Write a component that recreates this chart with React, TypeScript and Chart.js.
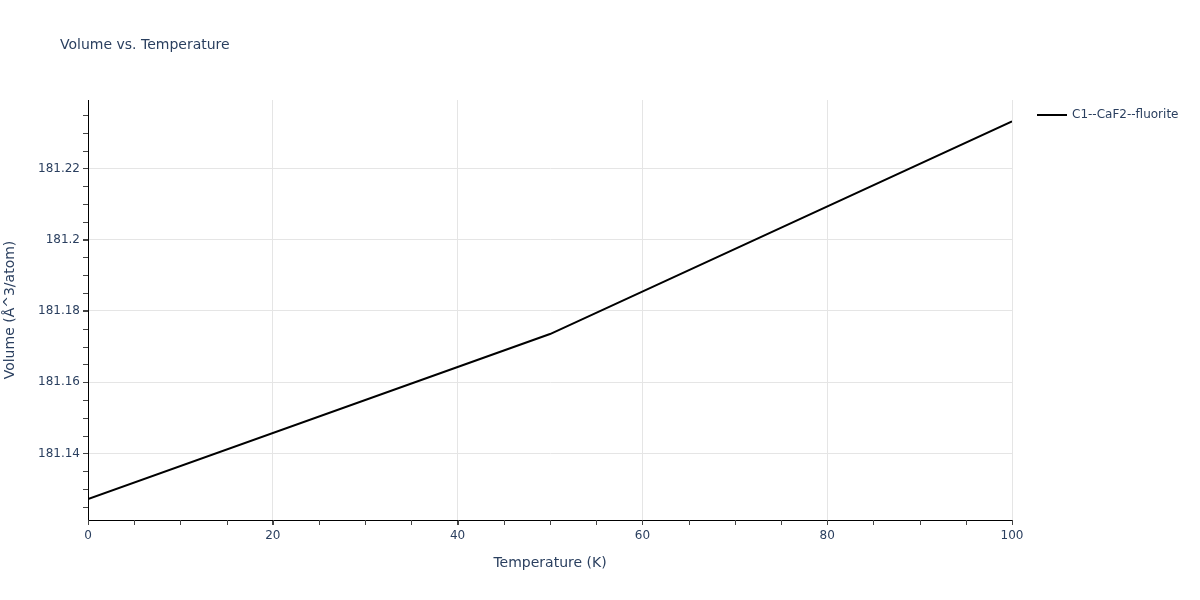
import { useEffect, useRef } from 'react';
import { Chart, registerables } from 'chart.js';
Chart.register(...registerables);

// data
const TEMPS = [0, 50, 100];
const VOLUMES = [181.1272, 181.1735, 181.2332];
const SERIES_NAME = 'C1--CaF2--fluorite';

const X_TICKS = [0, 20, 40, 60, 80, 100];
const Y_TICKS = [181.14, 181.16, 181.18, 181.2, 181.22];
const X_MINOR_STEP = 5;
const Y_MINOR_STEP = 0.005;

const INK = '#2a3f5f';
const FONT = '"DejaVu Sans", Verdana, sans-serif';

const decorations = {
  id: 'decorations',
  afterDraw(chart: Chart) {
    const { ctx, chartArea } = chart;
    const xs = chart.scales.x;
    const ys = chart.scales.y;
    ctx.save();

    // minor ticks
    ctx.strokeStyle = '#444';
    ctx.lineWidth = 1;
    ctx.beginPath();
    for (let v = xs.min; v <= xs.max + 1e-9; v += X_MINOR_STEP) {
      const px = Math.round(xs.getPixelForValue(v)) + 0.5;
      ctx.moveTo(px, chartArea.bottom);
      ctx.lineTo(px, chartArea.bottom + 5);
    }
    const y0 = Math.ceil(ys.min / Y_MINOR_STEP) * Y_MINOR_STEP;
    for (let v = y0; v <= ys.max + 1e-9; v += Y_MINOR_STEP) {
      const py = Math.round(ys.getPixelForValue(v)) + 0.5;
      ctx.moveTo(chartArea.left, py);
      ctx.lineTo(chartArea.left - 5, py);
    }
    ctx.stroke();

    ctx.fillStyle = INK;
    ctx.textBaseline = 'middle';

    // title
    ctx.font = `14px ${FONT}`;
    ctx.textAlign = 'left';
    ctx.fillText('Volume vs. Temperature', 60, 45);

    // axis titles
    ctx.textAlign = 'center';
    ctx.fillText('Temperature (K)', (chartArea.left + chartArea.right) / 2, 563);
    ctx.save();
    ctx.translate(10, (chartArea.top + chartArea.bottom) / 2);
    ctx.rotate(-Math.PI / 2);
    ctx.fillText('Volume (Å^3/atom)', 0, 0);
    ctx.restore();

    // legend
    ctx.strokeStyle = '#000';
    ctx.lineWidth = 2;
    ctx.beginPath();
    ctx.moveTo(1037, 115);
    ctx.lineTo(1067, 115);
    ctx.stroke();
    ctx.font = `12px ${FONT}`;
    ctx.textAlign = 'left';
    ctx.fillText(SERIES_NAME, 1072, 115);

    ctx.restore();
  },
};

export default function App() {
  const canvasRef = useRef<HTMLCanvasElement>(null);

  useEffect(() => {
    document.body.style.margin = '0';
    if (!canvasRef.current) return;
    const chart = new Chart(canvasRef.current, {
      type: 'line',
      data: {
        datasets: [{
          label: SERIES_NAME,
          data: TEMPS.map((t, i) => ({ x: t, y: VOLUMES[i] })),
          borderColor: '#000',
          borderWidth: 2,
          pointRadius: 0,
          tension: 0,
          fill: false,
        }],
      },
      options: {
        animation: false,
        responsive: true,
        maintainAspectRatio: false,
        layout: { padding: { top: 100, right: 188, left: 0, bottom: 0 } },
        plugins: { legend: { display: false }, title: { display: false }, tooltip: { enabled: false } },
        scales: {
          x: {
            type: 'linear',
            min: 0,
            max: 100,
            afterBuildTicks: (s) => { s.ticks = X_TICKS.map(v => ({ value: v })); },
            afterFit: (s) => { s.height = 80; },
            ticks: { color: INK, font: { family: FONT, size: 12 }, padding: 4, maxRotation: 0 },
            grid: { color: '#e5e5e5', lineWidth: 1, tickLength: 5, tickColor: '#444' },
            border: { display: true, color: '#000', width: 1 },
          },
          y: {
            type: 'linear',
            min: 181.1213,
            max: 181.2392,
            afterBuildTicks: (s) => { s.ticks = Y_TICKS.map(v => ({ value: v })); },
            afterFit: (s) => { s.width = 88; },
            ticks: { color: INK, font: { family: FONT, size: 12 }, padding: 3, callback: (v) => String(v) },
            grid: { color: '#e5e5e5', lineWidth: 1, tickLength: 5, tickColor: '#444' },
            border: { display: true, color: '#000', width: 1 },
          },
        },
      },
      plugins: [decorations],
    });
    return () => { chart.destroy(); };
  }, []);

  return (
    <div style={{ position: 'relative', width: 1200, height: 600 }}>
      <canvas ref={canvasRef} />
    </div>
  );
}
